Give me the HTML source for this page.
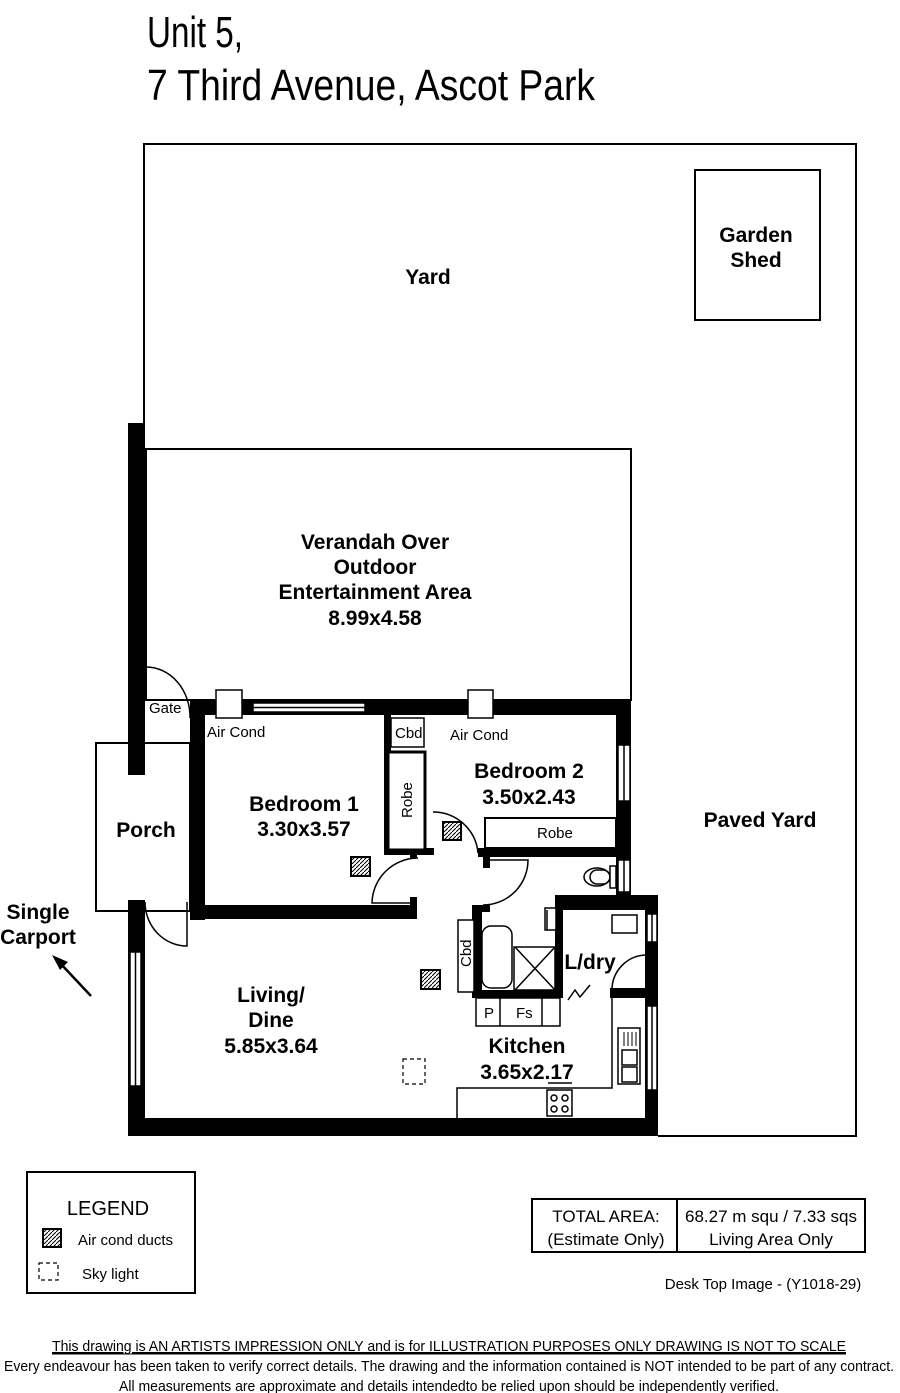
<!DOCTYPE html>
<html><head><meta charset="utf-8"><style>
html,body{margin:0;padding:0;background:#fff}
svg{display:block}
text{font-family:"Liberation Sans Narrow","Liberation Sans",Arial,sans-serif;fill:#000}
.b{font-weight:bold;font-size:21px;text-anchor:middle}
.s{font-size:15px}
</style></head><body>
<svg width="900" height="1393" viewBox="0 0 900 1393" xmlns="http://www.w3.org/2000/svg">
<defs>
<pattern id="hatch" width="4" height="4" patternUnits="userSpaceOnUse">
<rect width="4" height="4" fill="#fff"/><path d="M0,4 L4,0" stroke="#000" stroke-width="1"/></pattern>
</defs>
<!-- title -->
<text x="147" y="47" font-size="44" textLength="96" lengthAdjust="spacingAndGlyphs">Unit 5,</text>
<text x="147" y="100" font-size="44" textLength="448" lengthAdjust="spacingAndGlyphs">7 Third Avenue, Ascot Park</text>

<g fill="none" stroke="#000" stroke-width="2">
<!-- lot -->
<path d="M144,423 V144 H856 V1136 H658"/>
<rect x="695" y="170" width="125" height="150"/>
<rect x="146" y="449" width="485" height="251"/>
<rect x="96" y="743" width="94" height="168"/>
</g>

<!-- thick walls -->
<g fill="#000">
<rect x="128" y="423" width="17" height="352"/>
<rect x="190" y="700" width="441" height="15"/>
<rect x="190" y="700" width="15" height="220"/>
<rect x="190" y="905" width="225" height="14"/>
<rect x="410" y="897" width="7" height="22"/>
<rect x="128" y="900" width="17" height="236"/>
<rect x="128" y="1118" width="530" height="18"/>
<rect x="616" y="700" width="15" height="210"/>
<rect x="555" y="895" width="103" height="15"/>
<rect x="645" y="895" width="13" height="241"/>
<rect x="610" y="988" width="48" height="10"/>
<rect x="384" y="715" width="7" height="140"/>
<rect x="384" y="848" width="50" height="7"/>
<rect x="410" y="848" width="7" height="10"/>
<rect x="478" y="848" width="138" height="9"/>
<rect x="483" y="848" width="7" height="20"/>
<rect x="472" y="905" width="18" height="7"/>
<rect x="472" y="905" width="10" height="90"/>
<rect x="555" y="905" width="8" height="90"/>
<rect x="472" y="990" width="91" height="8"/>
</g>

<g fill="#fff" stroke="#000" stroke-width="1.5">
<!-- windows -->
<rect x="253" y="703" width="112" height="9"/>
<line x1="253" y1="707.5" x2="365" y2="707.5"/>
<rect x="618" y="745" width="12" height="56"/><line x1="624" y1="745" x2="624" y2="801"/>
<rect x="618" y="860" width="12" height="32"/><line x1="624" y1="860" x2="624" y2="892"/>
<rect x="647" y="914" width="10" height="28"/><line x1="652" y1="914" x2="652" y2="942"/>
<rect x="647" y="1006" width="10" height="84"/><line x1="652" y1="1006" x2="652" y2="1090"/>
<rect x="130" y="952" width="11" height="134"/><line x1="135.5" y1="952" x2="135.5" y2="1086"/>
<!-- air cond boxes -->
<rect x="216" y="690" width="26" height="28"/>
<rect x="468" y="690" width="25" height="28"/>
<!-- cbd robe -->
<rect x="391" y="718" width="33" height="29"/>
<rect x="388" y="752" width="37" height="98" stroke-width="3"/>
<rect x="485" y="818" width="131" height="30" stroke-width="2"/>
<!-- bathroom -->
<rect x="458" y="920" width="16" height="72"/>
<rect x="482" y="926" width="30" height="62" rx="9"/>
<rect x="514" y="947" width="41" height="43"/>
<rect x="476" y="998" width="84" height="28"/>
<line x1="500" y1="998" x2="500" y2="1026"/><line x1="542" y1="998" x2="542" y2="1026"/>
<rect x="545" y="908" width="11" height="22"/>
<rect x="612" y="915" width="25" height="18"/>
<rect x="590" y="870" width="20" height="14" rx="7" transform="translate(0,0)"/>
<!-- kitchen -->
<path d="M612,998 V1088 H457 V1118" fill="none"/>
<rect x="618" y="1028" width="22" height="56"/>
<rect x="547" y="1090" width="25" height="26"/>
</g>
<g fill="none" stroke="#000" stroke-width="1.5">
<path d="M515,947 L555,990 M555,947 L515,990"/>
<ellipse cx="597" cy="877" rx="13" ry="9"/>
<rect x="610" y="866" width="6" height="22" fill="#fff"/>
<line x1="547" y1="910" x2="547" y2="930"/>
<rect x="622" y="1050" width="15" height="15"/><rect x="622" y="1067" width="15" height="15"/>
<path d="M624,1032 v14 M628,1032 v14 M632,1032 v14 M636,1032 v14" stroke-width="1"/>
<circle cx="554" cy="1098" r="3"/><circle cx="565" cy="1098" r="3"/><circle cx="554" cy="1109" r="3"/><circle cx="565" cy="1109" r="3"/>
<!-- doors -->
<path d="M146,667 A44,50 0 0 1 190,718"/>
<path d="M145,902 A42,44 0 0 0 187,946 V902"/>
<path d="M418,858 A46,46 0 0 0 372,903 H412"/>
<path d="M433,812 A45,45 0 0 1 478,853"/>
<path d="M483,860 H528 A45,45 0 0 1 483,905"/>
<path d="M645,955 A35,35 0 0 0 612,990"/>
<path d="M568,1000 L575,990 L580,997 L590,985"/>
<line x1="548" y1="1083" x2="572" y2="1083"/>
</g>
<!-- ducts -->
<g stroke="#000" stroke-width="2" fill="url(#hatch)">
<rect x="351" y="857" width="19" height="19"/>
<rect x="443" y="822" width="18" height="18"/>
<rect x="421" y="970" width="19" height="19"/>
<rect x="43" y="1229" width="18" height="18"/>
</g>
<g fill="none" stroke="#000" stroke-width="1.2" stroke-dasharray="4,3">
<rect x="403" y="1059" width="22" height="25"/>
<rect x="39" y="1263" width="19" height="17"/>
</g>
<!-- arrow -->
<line x1="91" y1="996" x2="60" y2="963" stroke="#000" stroke-width="2.5"/>
<path d="M52,955 L68,962 L60,970 Z" fill="#000"/>

<!-- labels -->
<text class="b" x="428" y="284">Yard</text>
<text class="b" x="756" y="242">Garden</text>
<text class="b" x="756" y="267">Shed</text>
<text class="b" x="375" y="549">Verandah Over</text>
<text class="b" x="375" y="574">Outdoor</text>
<text class="b" x="375" y="599">Entertainment Area</text>
<text class="b" x="375" y="625">8.99x4.58</text>
<text class="b" x="760" y="827">Paved Yard</text>
<text class="b" x="146" y="837">Porch</text>
<text class="b" x="38" y="919">Single</text>
<text class="b" x="38" y="944">Carport</text>
<text class="b" x="304" y="811">Bedroom 1</text>
<text class="b" x="304" y="836">3.30x3.57</text>
<text class="b" x="529" y="778">Bedroom 2</text>
<text class="b" x="529" y="804">3.50x2.43</text>
<text class="b" x="271" y="1002">Living/</text>
<text class="b" x="271" y="1027">Dine</text>
<text class="b" x="271" y="1053">5.85x3.64</text>
<text class="b" x="527" y="1053">Kitchen</text>
<text class="b" x="527" y="1079">3.65x2.17</text>
<text class="b" x="590" y="969">L/dry</text>
<text class="s" x="149" y="713">Gate</text>
<text class="s" x="207" y="737">Air Cond</text>
<text class="s" x="450" y="740">Air Cond</text>
<text class="s" x="395" y="738">Cbd</text>
<text class="s" x="537" y="838">Robe</text>
<text class="s" x="0" y="0" transform="translate(412,818) rotate(-90)">Robe</text>
<text class="s" x="0" y="0" transform="translate(471,967) rotate(-90)">Cbd</text>
<text class="s" x="484" y="1018">P</text>
<text class="s" x="516" y="1018">Fs</text>

<!-- legend -->
<rect x="27" y="1172" width="168" height="121" fill="none" stroke="#000" stroke-width="2"/>
<text x="108" y="1215" font-size="20" text-anchor="middle">LEGEND</text>
<text class="s" x="78" y="1245">Air cond ducts</text>
<text class="s" x="82" y="1279">Sky light</text>
<!-- area -->
<rect x="532" y="1199" width="333" height="53" fill="none" stroke="#000" stroke-width="2"/>
<line x1="677" y1="1199" x2="677" y2="1252" stroke="#000" stroke-width="2"/>
<text x="606" y="1222" font-size="17" text-anchor="middle">TOTAL AREA:</text>
<text x="606" y="1245" font-size="17" text-anchor="middle">(Estimate Only)</text>
<text x="771" y="1222" font-size="17" text-anchor="middle">68.27 m squ /  7.33 sqs</text>
<text x="771" y="1245" font-size="17" text-anchor="middle">Living Area Only</text>
<text x="763" y="1289" font-size="15" text-anchor="middle">Desk Top Image - (Y1018-29)</text>
<!-- footer -->
<text x="449" y="1351" font-size="15" text-anchor="middle" textLength="794" lengthAdjust="spacingAndGlyphs" text-decoration="underline">This drawing is AN ARTISTS IMPRESSION ONLY and is for ILLUSTRATION PURPOSES ONLY DRAWING IS NOT TO SCALE</text>
<line x1="52" y1="1354" x2="846" y2="1354" stroke="#000" stroke-width="1"/>
<text x="449" y="1371" font-size="15" text-anchor="middle" textLength="890" lengthAdjust="spacingAndGlyphs">Every endeavour has been taken to verify correct details. The drawing and the information contained is NOT intended to be part of any contract.</text>
<text x="449" y="1391" font-size="15" text-anchor="middle" textLength="660" lengthAdjust="spacingAndGlyphs">All measurements are approximate and details intendedto be relied upon should be independently verified.</text>
</svg>
</body></html>
